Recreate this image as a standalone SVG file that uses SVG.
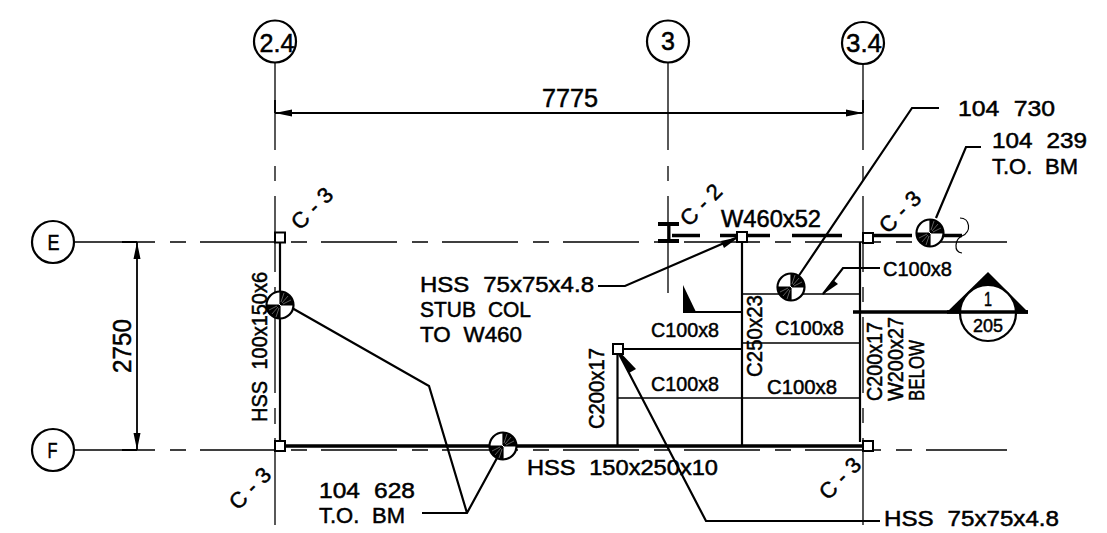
<svg xmlns="http://www.w3.org/2000/svg" width="1107" height="533" viewBox="0 0 1107 533">
<style>
text{font-family:"Liberation Sans",Arial,sans-serif;font-size:22px;fill:#000;stroke:#000;stroke-width:.5px;word-spacing:.3em}
.m{text-anchor:middle}
.g{font-size:25px}
.d{font-size:25px}
.c{font-size:21px}
.t{fill:none;stroke:#000;stroke-width:1.3}
.n{fill:none;stroke:#000;stroke-width:1.8}
.l{fill:none;stroke:#000;stroke-width:2.2}
.h{fill:none;stroke:#000;stroke-width:3.4}
.b{fill:#fff;stroke:#000;stroke-width:2.2}
.k{fill:#000;stroke:none}
</style>
<defs>
<g id="sym"><circle r="13.5" fill="#fff" stroke="#000" stroke-width="2.2"/><path class="k" d="M0 0V-13.5A13.5 13.5 0 0 1 13.5 0ZM0 0V13.5A13.5 13.5 0 0 1 -13.5 0Z"/><path d="M0 -1V-14M1 0H14M0 1V14M-1 0H-14" stroke="#000" stroke-width="1.2"/><path d="M1 -3L4 -12M2 -2L8 -9M3 -1L11 -5M-1 3L-4 12M-2 2L-8 9M-3 1L-11 5" stroke="#bbb" stroke-width=".5"/></g>
<rect id="sq" x="-5" y="-5" width="10" height="10" fill="#fff" stroke="#000" stroke-width="2"/>
</defs>
<g id="connectors">
<path class="t" d="M275 63V150M275 166V181M275 196V272M275 287V303M275 317V393M275 408V424M275 438V525M668 63V150M668 166V181M668 196V293M863 65V150M863 166V181M863 196V272M863 287V302M863 317V393M863 408V423M863 438V525"/>
<path class="t" d="M74 242H155M170 242H186M200 242H276M291 242H307M321 242H397M412 242H428M442 242H518M533 242H549M563 242H639M654 242H670M684 242H760M775 242H791M805 242H881M896 242H912M926 242H1007"/>
<path class="t" d="M74 450H155M170 450H186M200 450H276M291 450H307M321 450H397M412 450H428M442 450H518M533 450H549M563 450H639M654 450H670M684 450H760M775 450H791M805 450H881M896 450H912M926 450H1007"/>
<path class="n" d="M275 113H863M137 242V450M275 100V113M863 100V113M122 242H137M122 450H137"/>
<path class="k" d="M275 113L292 109.5V116.5ZM863 113L846 109.5V116.5ZM137 242L133.5 259H140.5ZM137 450L133.5 433H140.5Z"/>
<path class="l" d="M280 242V441M742 242V446M860 242V442M617.5 354V446M623 349H742M683 312H742"/>
<path class="h" d="M285 446H863M853 312H1028"/>
<path class="t" d="M742 294H860M742 343H860M617 398H860"/>
<path class="h" d="M672 235.5H700M720 235.5H770M792 235.5H842M863 235.5H912M930 235.5H962"/>
<path d="M658 224H679M658 241H679" fill="none" stroke="#000" stroke-width="4"/>
<path d="M669 224V241" fill="none" stroke="#000" stroke-width="3"/>
<path class="k" d="M683 285L696 312H683Z"/>
<path class="l" d="M598 286H625L738 237"/>
<path class="k" d="M739 237L724 248L721 241Z"/>
<path class="l" d="M939 108H912L798 277"/>
<path class="l" d="M936 218L966 147H981"/>
<path class="l" d="M880 268H843L823 294"/>
<path class="k" d="M822 295L833 280L838 284Z"/>
<path class="l" d="M292 308L429 386L467 513M422 513H467L497 458"/>
<path class="l" d="M880 521H706L617 350"/>
<path class="k" d="M617 349L636 369L629 373Z"/>
<path d="M960 218C970 218 972 232 962 236C955 239 953 252 962 253" fill="none" stroke="#000" stroke-width="1.2"/>
</g>
<g id="grid-2.4"><circle class="b" cx="275" cy="41.5" r="21"/><text class="m g" x="277" y="52" textLength="35" lengthAdjust="spacingAndGlyphs">2.4</text></g>
<g id="grid-3"><circle class="b" cx="668" cy="41.5" r="21"/><text class="m g" x="668" y="50">3</text></g>
<g id="grid-3.4"><circle class="b" cx="863" cy="43" r="21"/><text class="m g" x="864" y="52" textLength="36" lengthAdjust="spacingAndGlyphs">3.4</text></g>
<g id="grid-E"><circle class="b" cx="53" cy="242" r="21"/><text class="m" x="53.5" y="250" textLength="12" lengthAdjust="spacingAndGlyphs">E</text></g>
<g id="grid-F"><circle class="b" cx="53" cy="450" r="21"/><text class="m" x="52.5" y="458" textLength="10" lengthAdjust="spacingAndGlyphs">F</text></g>
<g id="columns">
<use href="#sq" x="280" y="237.5"/><use href="#sq" x="280" y="446"/><use href="#sq" x="742" y="237"/><use href="#sq" x="868" y="238"/><use href="#sq" x="868" y="446"/><use href="#sq" x="618" y="349"/>
</g>
<g id="symbols">
<use href="#sym" x="280" y="305"/><use href="#sym" x="503" y="446"/><use href="#sym" x="791" y="287"/><use href="#sym" x="930" y="233"/>
</g>
<g id="section">
<path class="k" d="M947 312L988 272L1028 312Z"/>
<circle cx="988" cy="313" r="28" fill="#fff" stroke="#000" stroke-width="2.2"/>
<path class="h" d="M947 312H1028"/>
<text class="m c" x="988" y="306" textLength="8" lengthAdjust="spacingAndGlyphs">1</text><text class="m" x="988" y="332" style="font-size:19px" textLength="30" lengthAdjust="spacingAndGlyphs">205</text>
</g>
<g id="labels">
<text class="m d" x="570" y="106.5" textLength="56" lengthAdjust="spacingAndGlyphs">7775</text>
<text class="d" transform="translate(131 373) rotate(-90)" textLength="54" lengthAdjust="spacingAndGlyphs">2750</text>
<text x="958" y="116" textLength="97" lengthAdjust="spacingAndGlyphs">104 730</text>
<text x="992" y="148" textLength="95" lengthAdjust="spacingAndGlyphs">104 239</text><text x="992" y="174" textLength="86" lengthAdjust="spacingAndGlyphs">T.O. BM</text>
<text x="420" y="292" textLength="174" lengthAdjust="spacingAndGlyphs">HSS 75x75x4.8</text><text x="420" y="317" textLength="111" lengthAdjust="spacingAndGlyphs">STUB COL</text><text x="420" y="342" textLength="102" lengthAdjust="spacingAndGlyphs">TO W460</text>
<text x="721" y="227" textLength="100" lengthAdjust="spacingAndGlyphs" style="font-size:23px">W460x52</text>
<text class="c" x="883" y="276" textLength="69" lengthAdjust="spacingAndGlyphs">C100x8</text>
<text class="c" x="651" y="337" textLength="68" lengthAdjust="spacingAndGlyphs">C100x8</text><text class="c" x="775" y="335" textLength="69" lengthAdjust="spacingAndGlyphs">C100x8</text><text class="c" x="651" y="391" textLength="68" lengthAdjust="spacingAndGlyphs">C100x8</text><text class="c" x="767" y="394" textLength="70" lengthAdjust="spacingAndGlyphs">C100x8</text>
<text transform="translate(267 422) rotate(-90)" textLength="150" lengthAdjust="spacingAndGlyphs">HSS 100x150x6</text>
<text transform="translate(604 429) rotate(-90)" textLength="81" lengthAdjust="spacingAndGlyphs">C200x17</text>
<text transform="translate(762 377) rotate(-90)" textLength="82" lengthAdjust="spacingAndGlyphs">C250x23</text>
<text transform="translate(882 401) rotate(-90)" textLength="79" lengthAdjust="spacingAndGlyphs">C200x17</text>
<text transform="translate(903 401) rotate(-90)" textLength="84" lengthAdjust="spacingAndGlyphs">W200x27</text>
<text transform="translate(924 401) rotate(-90)" textLength="61" lengthAdjust="spacingAndGlyphs">BELOW</text>
<text x="527" y="475" textLength="191" lengthAdjust="spacingAndGlyphs">HSS 150x250x10</text>
<text x="319" y="498" textLength="96" lengthAdjust="spacingAndGlyphs">104 628</text><text x="319" y="523" textLength="86" lengthAdjust="spacingAndGlyphs">T.O. BM</text>
<text x="884" y="526" textLength="175" lengthAdjust="spacingAndGlyphs">HSS 75x75x4.8</text>
<text transform="translate(300 231) rotate(-45)" textLength="49">C-3</text>
<text transform="translate(888 234.5) rotate(-45)" textLength="49">C-3</text>
<text transform="translate(689 227.5) rotate(-45)" textLength="49">C-2</text>
<text transform="translate(238 511) rotate(-45)" textLength="49">C-3</text>
<text transform="translate(828 501) rotate(-45)" textLength="49">C-3</text>
</g>
</svg>
